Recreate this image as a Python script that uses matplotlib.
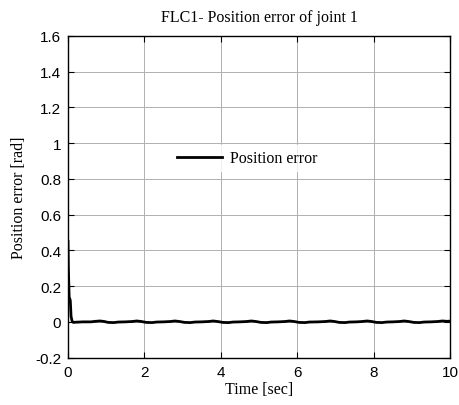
import matplotlib
matplotlib.use("Agg")
import matplotlib.pyplot as plt

title = "FLC1- Position error of joint 1"
xlabel = "Time [sec]"
ylabel = "Position error [rad]"
series_name = "Position error"

time_s = [0.0, 0.01, 0.03, 0.06, 0.08, 0.11, 0.14, 0.2, 0.4, 0.6,
          0.72, 0.84, 0.95, 1.05, 1.2, 1.32, 1.5, 1.68, 1.8, 1.92,
          2.05, 2.2, 2.32, 2.5, 2.68, 2.8, 2.92, 3.05, 3.2, 3.32,
          3.5, 3.68, 3.8, 3.92, 4.05, 4.2, 4.32, 4.5, 4.68, 4.8,
          4.92, 5.05, 5.2, 5.32, 5.5, 5.68, 5.8, 5.92, 6.05, 6.2,
          6.32, 6.55, 6.74, 6.86, 6.98, 7.1, 7.25, 7.37, 7.55, 7.7,
          7.83, 7.95, 8.07, 8.22, 8.34, 8.5, 8.68, 8.8, 8.92, 9.05,
          9.2, 9.32, 9.5, 9.68, 9.8, 9.92, 10.0]
error_rad = [0.45, 0.30, 0.14, 0.12, 0.03, 0.002, -0.003, -0.002, 0.0, 0.0,
             0.003, 0.005, 0.002, -0.003, -0.004, -0.001, 0.0, 0.002, 0.005, 0.002,
             -0.003, -0.004, -0.001, 0.0, 0.002, 0.005, 0.002, -0.003, -0.004, -0.001,
             0.0, 0.002, 0.005, 0.002, -0.003, -0.004, -0.001, 0.0, 0.002, 0.005,
             0.002, -0.003, -0.004, -0.001, 0.0, 0.002, 0.005, 0.002, -0.003, -0.004,
             -0.001, 0.0, 0.002, 0.005, 0.002, -0.003, -0.004, -0.001, 0.0, 0.002,
             0.005, 0.002, -0.003, -0.004, -0.001, 0.0, 0.002, 0.005, 0.002, -0.003,
             -0.004, -0.001, 0.0, 0.002, 0.005, 0.003, 0.004]

xticks = [0, 2, 4, 6, 8, 10]
yticks = [-0.2, 0, 0.2, 0.4, 0.6, 0.8, 1, 1.2, 1.4, 1.6]
ytick_labels = ["-0.2", "0", "0.2", "0.4", "0.6", "0.8", "1", "1.2", "1.4", "1.6"]

fig = plt.figure(figsize=(4.6, 4.06), dpi=100)
ax = fig.add_axes([68/460, 1 - 358.6/406, (450-68)/460, (358.6-37)/406])

ax.plot(time_s, error_rad, color="black", lw=2, label=series_name)
ax.set_xlim(0, 10)
ax.set_ylim(-0.2, 1.6)
ax.set_xticks(xticks)
ax.set_xticklabels([str(v) for v in xticks])
ax.set_yticks(yticks)
ax.set_yticklabels(ytick_labels)
ax.grid(True, color="#b0b0b0", lw=0.7, ls="-")
ax.set_axisbelow(True)
for sp in ax.spines.values():
    sp.set_linewidth(1.0)
ax.tick_params(direction="in", length=4, labelsize=11, width=0.8,
               top=True, right=True, pad=5)
for lbl in ax.get_xticklabels() + ax.get_yticklabels():
    lbl.set_fontfamily("Liberation Sans")

serif = "Liberation Serif"
ax.set_title(title, fontfamily=serif, fontsize=11.5, pad=11)
ax.set_xlabel(xlabel, fontfamily=serif, fontsize=11.5, labelpad=2)
ax.set_ylabel(ylabel, fontfamily=serif, fontsize=11.5, labelpad=6)

leg = ax.legend(loc="center", bbox_to_anchor=(0.47, 0.62), frameon=True,
                prop={"family": serif, "size": 11.5}, handlelength=2.8,
                handletextpad=0.5, fancybox=False, borderpad=0.3)
leg.get_frame().set_facecolor("white")
leg.get_frame().set_edgecolor("white")

fig.savefig("out.png", dpi=100)
